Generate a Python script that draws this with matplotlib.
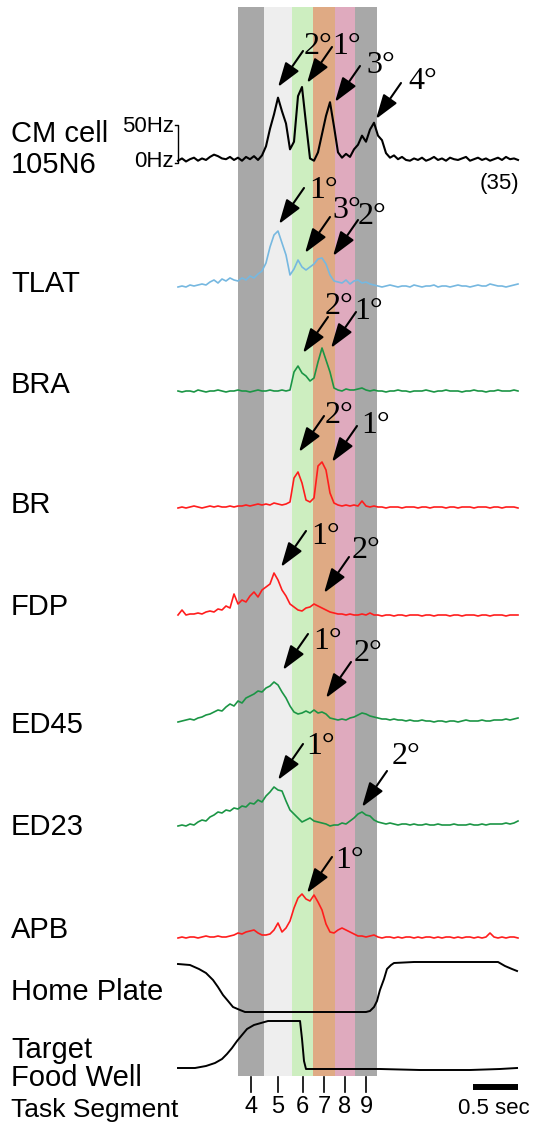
"""CM cell firing and EMG activity across reach-to-grasp task segments."""

import matplotlib

matplotlib.use("Agg")

import matplotlib.pyplot as plt
import numpy as np

# horizontal scale of the original figure: 90 px per second, traces start at px 178
PX = 90.0
X0 = 178.0
DT = 4 / PX  # one sample every 4 px

# CM cell firing rate (Hz)
cm_hz = [3, 6, 2, 5, 7, 3, 6, 4, 8, 11, 9, 6, 5, 8, 4,
         7, 3, 8, 5, 9, 4, 10,
         22, 45, 64, 86, 68, 52, 18, 28, 88, 100,
         52, 6, 3, 14, 38, 62, 80, 48, 14, 7,
         12, 8, 18, 24, 36, 28, 44, 53, 36, 30,
         13, 7, 10,
         5, 8, 4, 3, 6, 4, 7, 3, 5, 8, 4, 6, 3, 7, 5, 4, 6, 8, 3, 5,
         7, 4, 6, 3, 5, 7, 4, 8, 5, 6, 4]

# rectified EMG (arbitrary units)
tlat = [0, 1, 0, 2, 1, 2, 3, 2,
        5, 7, 4, 8, 6, 9, 7,
        6, 9, 7, 11, 9, 13, 16,
        24, 40, 52, 56, 44, 32, 12, 18, 27, 20, 17, 20, 23, 28, 29, 23, 12, 6,
        5, 4, 7, 3, 6, 7, 4, 5, 3, 2,
        1, 0, 1, 2, 1, 0, 1, 1, 0, 2, 1, 0, 1, 1, 2, 0, 1, 1, 0, 1,
        2, 1, 1, 0, 1, 2, 1, 1, 3, 2, 1, 1, 0, 1, 2, 3]
bra = [1, 0, 1, 1, 0, 2, 1, 0, 1, 1, 2, 1, 0, 1, 1, 2, 1, 1, 0, 1,
       2, 1, 1, 2, 1, 1, 2, 1,
       2, 20, 26, 19, 16, 11, 14, 30, 44, 32, 20, 4,
       2, 1, 3, 2, 2, 3, 4, 2, 1, 2, 1, 1, 0, 1, 1, 2, 1, 1, 0, 1,
       1, 1, 2, 1, 0, 1, 1, 2, 1, 1, 1, 0, 1, 1, 2, 1, 1, 0, 1, 1,
       2, 1, 1, 1, 2, 1]
br = [0, 1, 0, 1, 2, 1, 0, 1, 2, 1, 2, 1, 1, 2, 1, 2, 2, 3, 2, 3, 4, 3,
      4, 3, 5, 4, 3, 4, 6, 30, 36, 25, 8, 6, 10, 42, 46, 38, 15, 5,
      3, 2, 3, 2, 3, 2, 7, 2, 1, 2, 1, 1, 0, 1, 1, 1, 0, 1, 1, 1,
      0, 1, 1, 0, 1, 1, 1, 0, 1, 1, 0, 1, 1, 1, 0, 1, 1, 1, 0, 1,
      1, 0, 1, 1, 1, 0]
fdp = [1, 6, 1, 2, 2, 3, 2, 4, 5, 4, 7, 6, 10, 8,
       22, 12, 16, 14, 20, 24, 19, 26, 29, 32, 43, 36, 26, 20, 12, 9,
       6, 5, 8, 9, 12, 10, 8, 6, 4, 3,
       2, 2, 1, 2, 1, 1, 2, 1, 3, 1, 1, 0, 1, 1, 0, 1, 1, 0, 1, 1,
       1, 0, 1, 1, 0, 1, 1, 1, 0, 1, 1, 0, 1, 1, 1, 0, 1, 1, 0, 1,
       1, 1, 0, 1, 1, 1]
ed45 = [0, 1, 2, 3, 2, 4, 5, 7, 8, 10, 12, 11, 15, 18, 16, 21, 19, 24, 26, 28,
        31, 30, 34, 36, 40, 37,
        30, 24, 16, 10, 8, 9, 11, 9, 12, 9, 10, 8, 4, 3, 2, 3, 2, 4, 5, 7,
        9, 8, 6, 5, 4, 3,
        3, 2, 3, 2, 2, 1, 2, 1, 1, 2, 1, 1, 0, 1, 1, 0, 1, 1, 0, 1,
        2, 1, 1, 1, 2, 1, 1, 2, 2, 2, 3, 2, 3, 4]
ed23 = [0, 1, 0, 2, 1, 4, 6, 5, 9, 11, 14, 13, 16, 15, 18, 17, 20, 19, 23, 22,
        26, 24, 30, 34, 39, 36,
        35, 25, 16, 12, 8, 4, 6, 8, 5, 4, 3, 2, 0, 1, 1, 3, 2, 5, 8, 12,
        14, 11, 10, 6, 4, 3,
        2, 3, 2, 1, 2, 2, 1, 2, 1, 1, 2, 1, 1, 2, 1, 1, 1, 2, 1, 1,
        1, 2, 1, 1, 2, 1, 2, 2, 2, 2, 3, 2, 3, 5]
apb = [0, 1, 0, 1, 1, 0, 1, 2, 1, 1, 2, 1, 1, 2,
       3, 5, 4, 6, 7, 8, 5, 3, 3, 4, 8, 15, 6, 10, 17, 30, 40, 44, 39, 37,
       43, 36, 28, 14, 6, 5, 8, 10, 8, 6, 4, 2, 2, 1, 2, 3, 1,
       0, 1, 1, 0, 1, 0, 1, 1, 0, 1, 0, 1, 1, 0, 1, 0, 1, 1, 0, 1,
       0, 1, 1, 0, 1, 0, 1, 5, 1, 0, 1, 0, 1, 1, 0]

# contact sensors (height of the step trace)
home_t = [0, 0.133, 0.233, 0.311, 0.389, 0.444, 0.5, 0.556, 0.611, 0.689, 0.744,
          1.356, 2.089, 2.133, 2.178, 2.211, 2.244, 2.289, 2.322, 2.367, 2.4,
          2.622, 3.244, 3.556, 3.633, 3.711, 3.767]
home_v = [48, 47, 43, 39, 32, 25, 17, 11, 5, 2, 0,
          0, 0, 1, 5, 11, 22, 33, 43, 47, 49,
          50, 50, 50, 46, 43, 41]
well_t = [0, 0.189, 0.311, 0.411, 0.489, 0.544, 0.6, 0.656, 0.711, 0.767, 0.844,
          0.922, 1.0, 1.356, 1.378, 1.4, 1.422, 1.467, 2.244, 2.689, 3.244,
          3.578, 3.767]
well_v = [1, 1, 3, 6, 10, 15, 21, 28, 34, 40, 44,
          46, 48, 48, 30, 8, 0, 0, 0, -1, -1,
          0, 1]

# task segments 4..9 (s)
seg_labels = ["4", "5", "6", "7", "8", "9"]
seg_edges = [0.667, 0.956, 1.267, 1.5, 1.744, 1.967, 2.211]
seg_colors = ["#a8a8a8", "#eeeeee", "#cdeec0", "#dfaa84", "#dfaabe", "#a8a8a8"]

SANS = ["Liberation Sans", "DejaVu Sans"]
SERIF = ["Liberation Serif", "DejaVu Serif"]

BLACK = "#000000"
BLUE = "#76b8e0"
GREEN = "#1b9545"
RED = "#ff1d1d"

# (label, values, baseline row, px per unit, colour, label baseline rows)
rows = [
    (["CM cell", "105N6"], cm_hz, 163, 0.76, BLACK, [142, 173]),
    (["TLAT"], tlat, 287, 1.0, BLUE, [292]),
    (["BRA"], bra, 392, 1.0, GREEN, [393]),
    (["BR"], br, 508, 1.0, RED, [513]),
    (["FDP"], fdp, 616, 1.0, RED, [615]),
    (["ED45"], ed45, 722, 1.0, GREEN, [733]),
    (["ED23"], ed23, 826, 1.0, GREEN, [835]),
    (["APB"], apb, 938, 1.0, RED, [938]),
]

# arrow tip (px x, row) and label anchor (px x, row)
arrows = [
    ("2°", (278, 87), (304, 54)), ("1°", (307, 83), (332, 54)),
    ("3°", (335, 102), (366, 73)), ("4°", (376, 119), (408, 89)),
    ("1°", (279, 224), (309, 198)), ("3°", (305, 253), (332, 218)),
    ("2°", (333, 256), (358, 224)),
    ("2°", (303, 353), (325, 314)), ("1°", (331, 348), (354, 319)),
    ("2°", (299, 452), (325, 423)), ("1°", (332, 462), (361, 433)),
    ("1°", (281, 567), (311, 544)), ("2°", (324, 593), (352, 558)),
    ("1°", (283, 670), (313, 649)), ("2°", (326, 698), (354, 661)),
    ("1°", (278, 780), (306, 754)), ("2°", (362, 807), (392, 764)),
    ("1°", (307, 893), (335, 868)),
]


def tx(px):
    return (px - X0) / PX


def main() -> None:
    fig = plt.figure(figsize=(5.4, 11.31), dpi=100)
    ax = fig.add_axes([0, 0, 1, 1])
    ax.set_xlim(tx(0), tx(540))
    ax.set_ylim(1131, 0)
    ax.axis("off")

    band_top, band_bottom = 7, 1076
    for lo, hi, c in zip(seg_edges[:-1], seg_edges[1:], seg_colors):
        ax.fill_between([lo, hi], band_top, band_bottom, color=c, lw=0, zorder=0)

    for names, vals, base, scale, color, name_rows in rows:
        t = np.arange(len(vals)) * DT
        y = base - np.asarray(vals, dtype=float) * scale
        lw = 1.5 if color == BLACK else 1.2
        ax.plot(t, y, color=color, lw=lw, zorder=3)
        for name, r in zip(names, name_rows):
            ax.text(tx(11), r, name, fontsize=21, family=SANS, ha="left", va="baseline")

    # 50 Hz calibration bracket on the CM trace
    cm_base, cm_scale = rows[0][2], rows[0][3]
    top = cm_base - 50 * cm_scale
    bx = tx(178)
    ax.plot([bx - 0.035, bx, bx, bx - 0.035], [top, top, cm_base, cm_base],
            color=BLACK, lw=1.0, zorder=3)
    ax.text(tx(174), 132, "50Hz", fontsize=16, family=SANS, ha="right", va="baseline")
    ax.text(tx(174), 167, "0Hz", fontsize=16, family=SANS, ha="right", va="baseline")
    ax.text(tx(519), 189, "(35)", fontsize=16, family=SANS, ha="right", va="baseline")

    # contact traces
    ax.plot(home_t, 1012 - np.asarray(home_v, dtype=float), color=BLACK, lw=1.4, zorder=3)
    ax.plot(well_t, 1069 - np.asarray(well_v, dtype=float), color=BLACK, lw=1.4, zorder=3)
    ax.text(tx(11), 1000, "Home Plate", fontsize=21, family=SANS, va="baseline")
    ax.text(tx(11), 1058, "Target", fontsize=21, family=SANS, va="baseline")
    ax.text(tx(11), 1086, "Food Well", fontsize=21, family=SANS, va="baseline")
    ax.text(tx(11), 1117, "Task Segment", fontsize=19, family=SANS, va="baseline")

    # segment ticks at band centres
    for lo, hi, lab in zip(seg_edges[:-1], seg_edges[1:], seg_labels):
        m = (lo + hi) / 2
        ax.plot([m, m], [1077, 1092], color=BLACK, lw=1.2)
        ax.text(m, 1113, lab, fontsize=17, family=SANS, ha="center", va="baseline")

    # 0.5 s scale bar, right-aligned to the trace end
    t_end = (len(cm_hz) - 1) * DT
    ax.plot([t_end - 0.5, t_end], [1087, 1087], color=BLACK, lw=4.3, solid_capstyle="butt")
    ax.text(t_end - 0.27, 1114, "0.5 sec", fontsize=16, family=SANS, ha="center", va="baseline")

    for lab, (hx, hy), (lx, ly) in arrows:
        ax.annotate("", xy=(tx(hx), hy), xytext=(tx(hx + 25), hy - 36),
                    arrowprops=dict(arrowstyle="-|>,head_length=1.5,head_width=0.5",
                                    mutation_scale=10, lw=1.5, color=BLACK,
                                    shrinkA=0, shrinkB=0),
                    zorder=4)
        ax.text(tx(lx), ly, lab, fontsize=23, family=SERIF, ha="left", va="baseline", zorder=4)

    fig.savefig("out.png", dpi=100)
    plt.close(fig)


if __name__ == "__main__":
    main()
